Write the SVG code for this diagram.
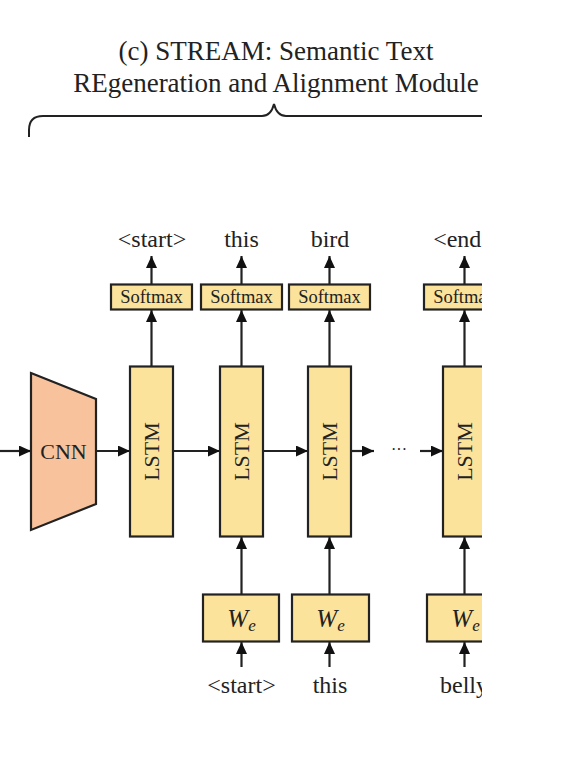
<svg xmlns="http://www.w3.org/2000/svg" width="580" height="760" viewBox="0 0 580 760">
<style>
  text { font-family: "Liberation Serif", "Times New Roman", serif; fill: #222; }
  .title { font-size: 27px; text-anchor: middle; }
  .word { font-size: 24px; text-anchor: middle; }
  .box { fill: #FCE39B; stroke: #222; stroke-width: 2.2; }
  .cnn { fill: #F8C29C; stroke: #222; stroke-width: 2.2; }
  .sm { font-size: 18.5px; text-anchor: middle; }
  .lstm { font-size: 22px; text-anchor: middle; }
  .we { font-size: 25px; font-style: italic; text-anchor: middle; }
  .conn line { stroke: #222; stroke-width: 2.2; marker-end: url(#ah); }
  .brace { fill: none; stroke: #222; stroke-width: 2; }
</style>
<defs>
  <marker id="ah" markerUnits="userSpaceOnUse" markerWidth="13" markerHeight="11" refX="12" refY="5.5" orient="auto">
    <path d="M0,0 L12,5.5 L0,11 z" fill="#111"/>
  </marker>
  <clipPath id="crop"><rect x="0" y="0" width="482" height="760"/></clipPath>
</defs>
<rect width="580" height="760" fill="#fff"/>
<g clip-path="url(#crop)">
  <g id="title">
    <text class="title" x="276" y="60">(c) STREAM: Semantic Text</text>
    <text class="title" x="276" y="92">REgeneration and Alignment Module</text>
    <path class="brace" d="M29,137 L29,130 Q29,116 43,116 L262,116 Q271,116 274,104 Q277,116 286,116 L490,116"/>
  </g>
  <g class="conn" id="connectors">
    <line x1="0" y1="451" x2="31" y2="451"/>
    <line x1="96" y1="451" x2="130" y2="451"/>
    <line x1="173" y1="451" x2="220" y2="451"/>
    <line x1="263" y1="451" x2="308" y2="451"/>
    <line x1="351" y1="451" x2="374" y2="451"/>
    <line x1="420" y1="451" x2="443" y2="451"/>
    <line x1="151.5" y1="366" x2="151.5" y2="310"/>
    <line x1="241.5" y1="366" x2="241.5" y2="310"/>
    <line x1="329.5" y1="366" x2="329.5" y2="310"/>
    <line x1="464.5" y1="366" x2="464.5" y2="310"/>
    <line x1="151.5" y1="284" x2="151.5" y2="256"/>
    <line x1="241.5" y1="284" x2="241.5" y2="256"/>
    <line x1="329.5" y1="284" x2="329.5" y2="256"/>
    <line x1="464.5" y1="284" x2="464.5" y2="256"/>
    <line x1="241.5" y1="594" x2="241.5" y2="537"/>
    <line x1="329.5" y1="594" x2="329.5" y2="537"/>
    <line x1="464.5" y1="594" x2="464.5" y2="537"/>
    <line x1="241.5" y1="667" x2="241.5" y2="642"/>
    <line x1="329.5" y1="667" x2="329.5" y2="642"/>
    <line x1="464.5" y1="667" x2="464.5" y2="642"/>
  </g>
  <text x="399" y="455" style="font-size:16px" text-anchor="middle">···</text>
  <g id="cnn">
    <polygon class="cnn" points="31,373 96,399 96,504 31,530"/>
    <text class="lstm" x="63.5" y="459">CNN</text>
  </g>
  <g id="lstm1">
    <rect class="box" x="130" y="366.5" width="43" height="170"/>
    <text class="lstm" transform="translate(159,451.5) rotate(-90)">LSTM</text>
  </g>
  <g id="lstm2">
    <rect class="box" x="220" y="366.5" width="43" height="170"/>
    <text class="lstm" transform="translate(249,451.5) rotate(-90)">LSTM</text>
  </g>
  <g id="lstm3">
    <rect class="box" x="308" y="366.5" width="43" height="170"/>
    <text class="lstm" transform="translate(337,451.5) rotate(-90)">LSTM</text>
  </g>
  <g id="lstm4">
    <rect class="box" x="443" y="366.5" width="43" height="170"/>
    <text class="lstm" transform="translate(472,451.5) rotate(-90)">LSTM</text>
  </g>
  <g id="softmax1">
    <rect class="box" x="111" y="284.5" width="81" height="25"/>
    <text class="sm" x="151.5" y="303">Softmax</text>
  </g>
  <g id="softmax2">
    <rect class="box" x="201" y="284.5" width="81" height="25"/>
    <text class="sm" x="241.5" y="303">Softmax</text>
  </g>
  <g id="softmax3">
    <rect class="box" x="289" y="284.5" width="81" height="25"/>
    <text class="sm" x="329.5" y="303">Softmax</text>
  </g>
  <g id="softmax4">
    <rect class="box" x="424" y="284.5" width="81" height="25"/>
    <text class="sm" x="464.5" y="303">Softmax</text>
  </g>
  <g id="we2">
    <rect class="box" x="203" y="594.5" width="76" height="47"/>
    <text class="we" x="241.5" y="627">W<tspan style="font-size:17px" dy="4">e</tspan></text>
  </g>
  <g id="we3">
    <rect class="box" x="292" y="594.5" width="77" height="47"/>
    <text class="we" x="330.5" y="627">W<tspan style="font-size:17px" dy="4">e</tspan></text>
  </g>
  <g id="we4">
    <rect class="box" x="427" y="594.5" width="76" height="47"/>
    <text class="we" x="465.5" y="627">W<tspan style="font-size:17px" dy="4">e</tspan></text>
  </g>
  <g id="outputs">
    <text class="word" x="152" y="247">&lt;start&gt;</text>
    <text class="word" x="241.5" y="247">this</text>
    <text class="word" x="330" y="247">bird</text>
    <text class="word" x="464" y="247">&lt;end&gt;</text>
  </g>
  <g id="inputs">
    <text class="word" x="241.5" y="693">&lt;start&gt;</text>
    <text class="word" x="330" y="693">this</text>
    <text class="word" x="464" y="693">belly</text>
  </g>
</g>
</svg>
